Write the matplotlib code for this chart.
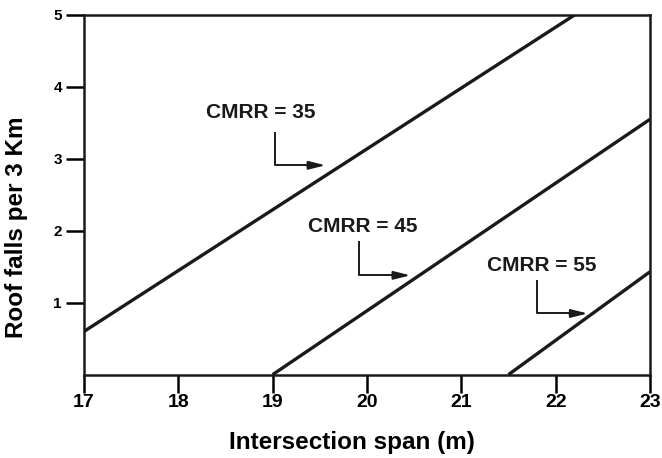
import matplotlib
matplotlib.use("Agg")
import matplotlib.pyplot as plt

plt.rcParams['font.family'] = ['Liberation Sans', 'DejaVu Sans']
plt.rcParams['font.weight'] = 'bold'

# Data (line endpoints)
cmrr_labels = ["CMRR = 35", "CMRR = 45", "CMRR = 55"]
span_35 = [17.0, 22.2]
falls_35 = [0.6, 5.0]
span_45 = [19.0, 23.0]
falls_45 = [0.0, 3.55]
span_55 = [21.5, 23.0]
falls_55 = [0.0, 1.43]
x_ticks = [17, 18, 19, 20, 21, 22, 23]
y_ticks = [1, 2, 3, 4, 5]

# annotation positions: (text x, text y, corner x, top y, bottom y, head x)
ann = [
    (18.87, 3.64, 19.03, 3.36, 2.91, 19.56),
    (19.95, 2.06, 19.92, 1.85, 1.38, 20.46),
    (21.85, 1.52, 21.80, 1.30, 0.85, 22.34),
]

W, H = 662, 458
fig = plt.figure(figsize=(W/100, H/100), dpi=100)
ax = fig.add_axes([84/W, 1-374.6/H, 566/W, (374.6-15)/H])

for xs, ys in [(span_35, falls_35), (span_45, falls_45), (span_55, falls_55)]:
    ax.plot(xs, ys, color='#1a1a1a', lw=2.4, solid_capstyle='butt')

for lab, (tx, ty, cx, y0, y1, hx) in zip(cmrr_labels, ann):
    ax.text(tx, ty, lab, ha='center', va='center', fontsize=15, fontweight='bold', color='#1a1a1a')
    ax.plot([cx, cx, hx - 0.15], [y0, y1, y1], color='#1a1a1a', lw=1.4)
    ax.annotate('', xy=(hx, y1), xytext=(hx - 0.2, y1),
                arrowprops=dict(arrowstyle='-|>,head_length=1.0,head_width=0.25',
                                color='#1a1a1a', lw=1.4, shrinkA=0, shrinkB=0))

ax.set_xlim(17, 23)
ax.set_ylim(0, 5)
ax.set_xticks(x_ticks)
ax.set_yticks(y_ticks)
ax.tick_params(axis='x', direction='out', length=13, width=1.8, labelsize=14, pad=1)
ax.tick_params(axis='y', direction='out', length=13, width=1.8, labelsize=11, pad=3)
for t in ax.get_xticklabels() + ax.get_yticklabels():
    t.set_fontweight('bold')
for s in ax.spines.values():
    s.set_linewidth(1.8)
    s.set_color('#1a1a1a')

ax.set_xlabel('Intersection span (m)', fontsize=17.5, fontweight='bold')
ax.set_ylabel('Roof falls per 3 Km', fontsize=17.5, fontweight='bold')
ax.xaxis.label.set_va('center')
ax.yaxis.label.set_va('center')
ax.xaxis.set_label_coords((352-84)/566, (374.6-443)/359.6)
ax.yaxis.set_label_coords((17-84)/566, (374.6-227)/359.6)

fig.savefig('out.png', dpi=100)
